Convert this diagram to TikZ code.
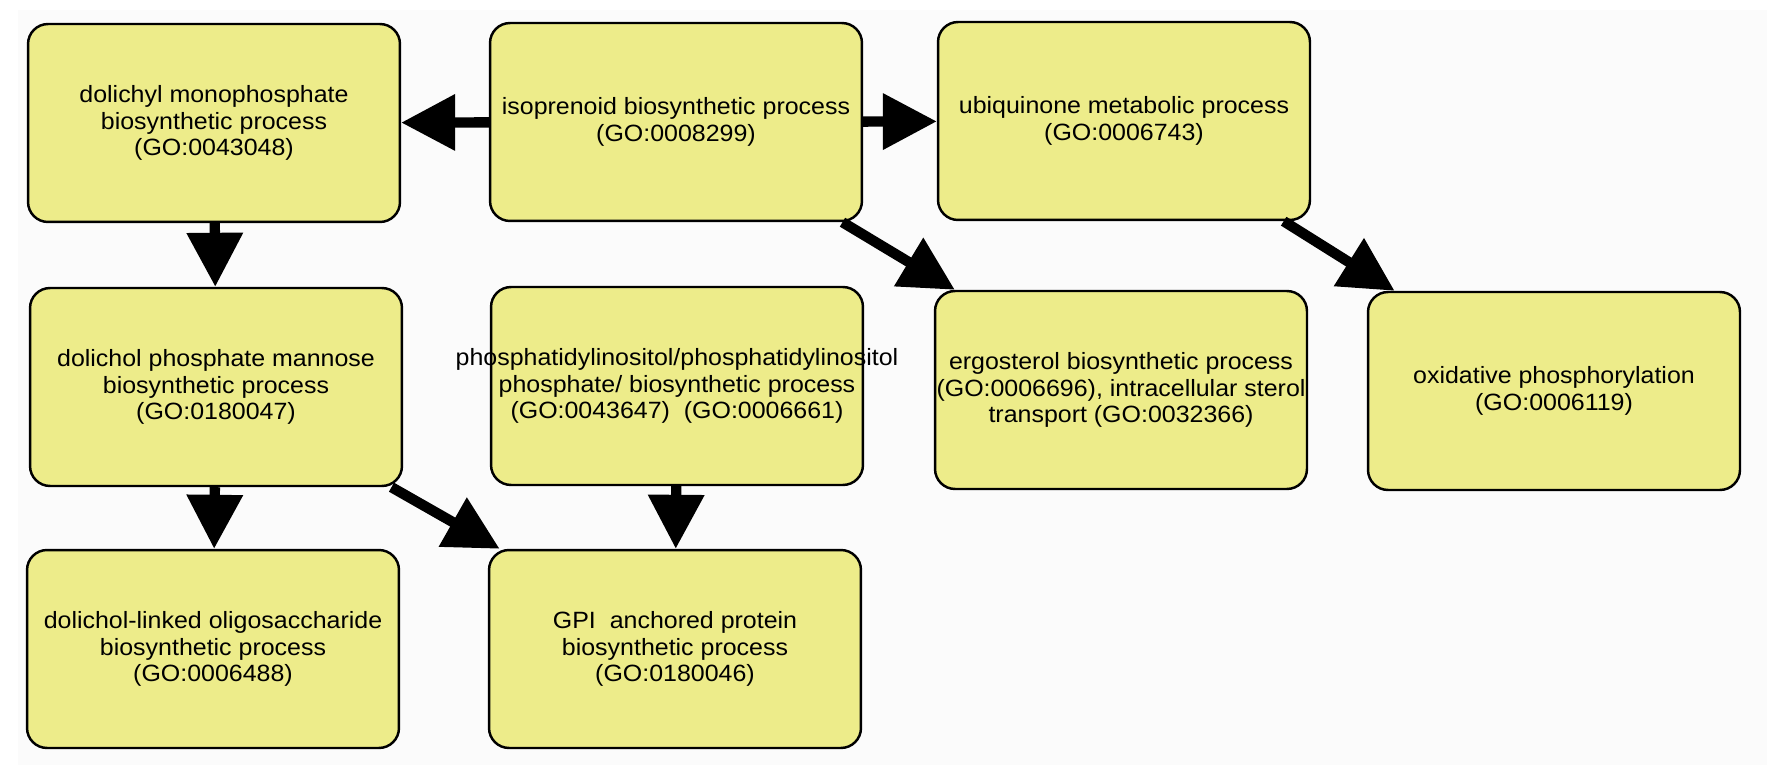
\documentclass[tikz,border=0pt]{standalone}
\usepackage{fontspec}
\setmainfont{Liberation Sans}[FakeStretch=1.06]
\usetikzlibrary{arrows.meta,positioning}

\begin{document}
\begin{tikzpicture}[x=0.02cm, y=-0.02cm,
    every node/.style={font=\fontsize{13.4}{15}\selectfont},
    term/.style={draw=black, line width=1.4pt, fill=goyellow, rounded corners=0.4cm,
        minimum width=7.44cm, minimum height=3.96cm, inner sep=0pt, align=center},
    isa/.style={line width=5.9pt, -{Triangle[length=1.08cm, width=1.08cm]}}]
        \definecolor{goyellow}{RGB}{237,236,138}
        \definecolor{bggray}{RGB}{251,251,251}

        % Frame and light background
        \useasboundingbox (0,0) rectangle (1767,776);
        \fill[bggray] (18,10) rectangle (1767,765);

        % Top row
        \node[term] (dolmono) at (214,123) {dolichyl monophosphate\\biosynthetic process\\ (GO:0043048)};
        \node[term] (isoprenoid) at (676,122) {isoprenoid biosynthetic process\\(GO:0008299)};
        \node[term] (ubiquinone) at (1124,121) {ubiquinone metabolic process\\(GO:0006743)};

        % Middle row
        \node[term] (dpm) at (216,387) {dolichol phosphate mannose\\biosynthetic process\\(GO:0180047)};
        \node[term] (phosphatidyl) at (677,386) {\makebox[0pt][c]{phosphatidylinositol/phosphatidylinositol}\\phosphate/ biosynthetic process\\(GO:0043647)\ \ (GO:0006661)};
        \node[term] (ergosterol) at (1121,390) {ergosterol biosynthetic process\\(GO:0006696), intracellular sterol\\transport (GO:0032366)};
        \node[term] (oxphos) at (1554,391) {oxidative phosphorylation\\(GO:0006119)};

        % Bottom row
        \node[term] (dllo) at (213,649) {dolichol-linked oligosaccharide\\biosynthetic process\\(GO:0006488)};
        \node[term] (gpi) at (675,649) {GPI\ \ anchored protein\\biosynthetic process\\ (GO:0180046)};

        % Edges, centre to centre
        \draw[isa] (isoprenoid) -- (dolmono);
        \draw[isa] (isoprenoid) -- (ubiquinone);
        \draw[isa] (isoprenoid) -- (ergosterol);
        \draw[isa] (ubiquinone) -- (oxphos);
        \draw[isa] (dolmono) -- (dpm);
        \draw[isa] (dpm) -- (dllo);
        \draw[isa] (dpm) -- (gpi);
        \draw[isa] (phosphatidyl) -- (gpi);
    \end{tikzpicture}
\end{document}
